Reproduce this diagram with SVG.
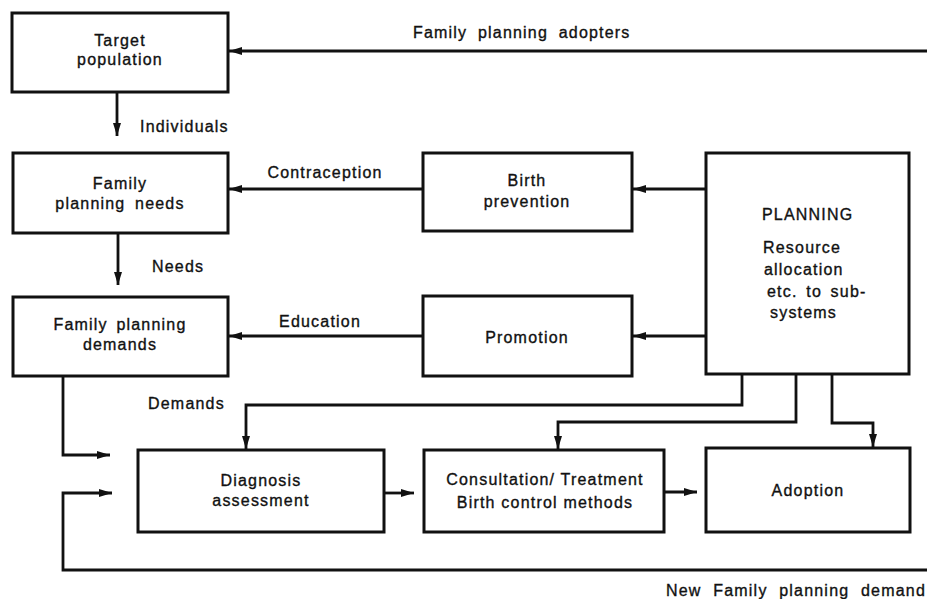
<svg xmlns="http://www.w3.org/2000/svg" width="927" height="599" viewBox="0 0 927 599">
<style>
  .box { fill: #ffffff; stroke: #111; stroke-width: 3; }
  .conn { fill: none; stroke: #111; stroke-width: 2.8; stroke-linejoin: miter; }
  .arr { marker-end: url(#ah); }
  text { font-family: "Liberation Sans", Arial, Helvetica, sans-serif; font-size: 16px; fill: #111; stroke: #111; stroke-width: 0.35; letter-spacing: 1.2px; }
  .c { text-anchor: middle; }
</style>
<defs>
  <marker id="ah" markerWidth="13" markerHeight="8" refX="13" refY="4" orient="auto" markerUnits="userSpaceOnUse">
    <path d="M0,0 L13,4 L0,8 z" fill="#111"/>
  </marker>
</defs>
<rect width="927" height="599" fill="#ffffff"/>

<g id="connectors">
  <path class="conn arr" d="M927,51 L229,51"/>
  <path class="conn arr" d="M117,92 L117,136"/>
  <path class="conn arr" d="M118,233 L118,285"/>
  <path class="conn arr" d="M423,189 L229,189"/>
  <path class="conn arr" d="M706,189 L633,189"/>
  <path class="conn arr" d="M423,336 L229,336"/>
  <path class="conn arr" d="M706,336 L633,336"/>
  <path class="conn arr" d="M63,376 L63,455 L110,455"/>
  <path class="conn arr" d="M927,570 L63,570 L63,493 L112,493"/>
  <path class="conn arr" d="M742,374 L742,405 L246,405 L246,449"/>
  <path class="conn arr" d="M796,374 L796,422 L558,422 L558,449"/>
  <path class="conn arr" d="M832,374 L832,423 L873,423 L873,447"/>
  <path class="conn arr" d="M384,493 L414,493"/>
  <path class="conn arr" d="M664,492 L697,492"/>
</g>

<g id="labels">
  <text x="413" y="38" word-spacing="5">Family planning adopters</text>
  <text x="140" y="132">Individuals</text>
  <text x="325" y="178" class="c">Contraception</text>
  <text x="152" y="272">Needs</text>
  <text x="320" y="327" class="c">Education</text>
  <text x="148" y="409">Demands</text>
  <text x="926" y="596" text-anchor="end" word-spacing="6">New Family planning demand</text>
</g>

<g id="target-population">
  <rect class="box" x="12" y="13" width="216" height="79"/>
  <text x="120" y="46" class="c">Target</text>
  <text x="120" y="65" class="c">population</text>
</g>

<g id="family-planning-needs">
  <rect class="box" x="13" y="153" width="215" height="80"/>
  <text x="120" y="189" class="c">Family</text>
  <text x="120" y="209" class="c" word-spacing="4">planning needs</text>
</g>

<g id="family-planning-demands">
  <rect class="box" x="13" y="297" width="215" height="79"/>
  <text x="120" y="330" class="c" word-spacing="3">Family planning</text>
  <text x="120" y="350" class="c">demands</text>
</g>

<g id="birth-prevention">
  <rect class="box" x="423" y="153" width="209" height="78"/>
  <text x="527" y="186" class="c">Birth</text>
  <text x="527" y="207" class="c">prevention</text>
</g>

<g id="promotion">
  <rect class="box" x="423" y="296" width="209" height="80"/>
  <text x="527" y="343" class="c">Promotion</text>
</g>

<g id="planning">
  <rect class="box" x="706" y="153" width="203" height="221"/>
  <text x="762" y="220">PLANNING</text>
  <text x="763" y="253">Resource</text>
  <text x="764" y="275">allocation</text>
  <text x="767" y="297" word-spacing="3">etc. to sub-</text>
  <text x="770" y="318">systems</text>
</g>

<g id="diagnosis-assessment">
  <rect class="box" x="138" y="450" width="246" height="82"/>
  <text x="261" y="486" class="c">Diagnosis</text>
  <text x="261" y="506" class="c">assessment</text>
</g>

<g id="consultation-treatment">
  <rect class="box" x="424" y="450" width="240" height="82"/>
  <text x="545" y="485" class="c">Consultation/ Treatment</text>
  <text x="545" y="508" class="c">Birth control methods</text>
</g>

<g id="adoption">
  <rect class="box" x="706" y="448" width="204" height="84"/>
  <text x="808" y="496" class="c">Adoption</text>
</g>
</svg>
